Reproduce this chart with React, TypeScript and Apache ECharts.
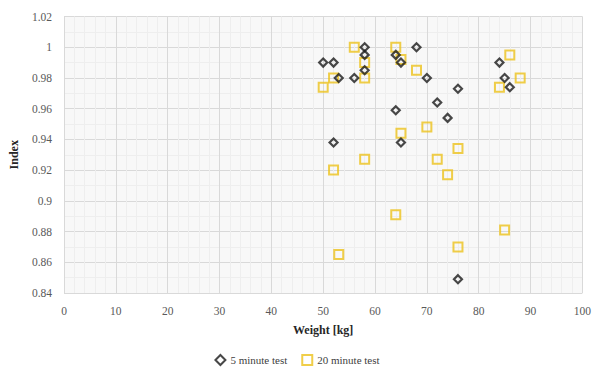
import React, { useEffect, useRef } from "react";
import * as echarts from "echarts";

const xTicks = [0, 10, 20, 30, 40, 50, 60, 70, 80, 90, 100];
const yTicks = [0.84, 0.86, 0.88, 0.9, 0.92, 0.94, 0.96, 0.98, 1, 1.02];

const test5Weight = [50, 52, 53, 56, 58, 58, 58, 64, 65, 68, 70, 72, 74, 64, 52, 65, 76, 84, 85, 86, 76];
const test5Index = [0.99, 0.99, 0.98, 0.98, 1.0, 0.995, 0.985, 0.995, 0.99, 1.0, 0.98, 0.964, 0.954, 0.959, 0.938, 0.938, 0.973, 0.99, 0.98, 0.974, 0.849];

const test20Weight = [56, 58, 58, 52, 50, 64, 65, 68, 70, 65, 58, 52, 64, 53, 72, 74, 76, 85, 76, 86, 88, 84];
const test20Index = [1.0, 0.99, 0.98, 0.98, 0.974, 1.0, 0.992, 0.985, 0.948, 0.944, 0.927, 0.92, 0.891, 0.865, 0.927, 0.917, 0.934, 0.881, 0.87, 0.995, 0.98, 0.974];

const seriesNames = ["5 minute test", "20 minute test"];

export default function App() {
  const ref = useRef<HTMLDivElement>(null);
  useEffect(() => {
    if (!ref.current) return;
    const chart = echarts.init(ref.current, undefined, { renderer: "svg" });
    const font = "Liberation Serif";
    chart.setOption({
      animation: false,
      textStyle: { fontFamily: font },
      grid: {
        left: 63,
        right: 11,
        top: 16.5,
        bottom: 84,
        show: true,
        backgroundColor: "#f8f8f8",
        borderWidth: 0,
      },
      legend: {
        bottom: 6,
        left: "center",
        itemWidth: 10,
        itemHeight: 10,
        itemGap: 14,
        textStyle: { fontFamily: font, fontSize: 11, color: "#404040" },
        data: [
          { name: seriesNames[0], icon: "diamond" },
          { name: seriesNames[1], icon: "rect" },
        ],
      },
      xAxis: {
        type: "value",
        min: xTicks[0],
        max: xTicks[xTicks.length - 1],
        interval: 10,
        name: "Weight [kg]",
        nameLocation: "middle",
        nameGap: 31,
        nameTextStyle: { fontFamily: font, fontWeight: "bold", fontSize: 12, color: "#262626" },
        axisLine: { show: false },
        axisTick: { show: false },
        axisLabel: { fontFamily: font, color: "#595959", fontSize: 11.5, margin: 12 },
        splitLine: { show: true, lineStyle: { color: "#d9d9d9", width: 1 } },
        minorTick: { show: false, splitNumber: 5 },
        minorSplitLine: { show: true, lineStyle: { color: "#eeeeee", width: 1 } },
      },
      yAxis: {
        type: "value",
        min: yTicks[0],
        max: yTicks[yTicks.length - 1],
        interval: 0.02,
        name: "Index",
        nameLocation: "middle",
        nameGap: 44,
        nameTextStyle: { fontFamily: font, fontWeight: "bold", fontSize: 12, color: "#262626" },
        axisLine: { show: false },
        axisTick: { show: false },
        axisLabel: {
          fontFamily: font,
          color: "#595959",
          fontSize: 11.5,
          margin: 12,
          formatter: (v: number) => String(parseFloat(v.toFixed(2))),
        },
        splitLine: { show: true, lineStyle: { color: "#d9d9d9", width: 1 } },
        minorTick: { show: false, splitNumber: 2 },
        minorSplitLine: { show: true, lineStyle: { color: "#eeeeee", width: 1 } },
      },
      series: [
        {
          name: seriesNames[0],
          type: "scatter",
          symbol: "diamond",
          symbolSize: 8,
          itemStyle: { color: "rgba(255,255,255,0)", borderColor: "#1a1a1a", borderWidth: 2.2 },
          data: test5Weight.map((w, i) => [w, test5Index[i]]),
          z: 3,
        },
        {
          name: seriesNames[1],
          type: "scatter",
          symbol: "rect",
          symbolSize: 9,
          itemStyle: { color: "rgba(255,255,255,0)", borderColor: "#ecc21c", borderWidth: 2 },
          data: test20Weight.map((w, i) => [w, test20Index[i]]),
          z: 2,
        },
      ],
    });
    return () => chart.dispose();
  }, []);
  return <div ref={ref} style={{ width: 594, height: 377, position: "absolute", left: 0, top: 0, background: "#fff" }} />;
}
